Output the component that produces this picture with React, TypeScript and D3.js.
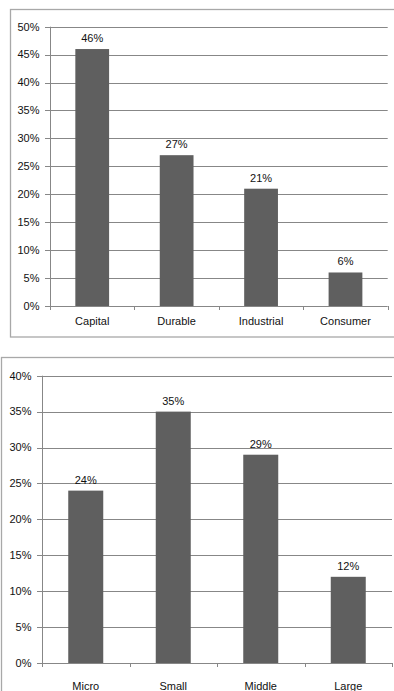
import React from "react";
import * as d3 from "d3";

// Share of firms by industry type
const industryCategories = ["Capital", "Durable", "Industrial", "Consumer"];
const industryShares = [46, 27, 21, 6];
const industryTicks = [0, 5, 10, 15, 20, 25, 30, 35, 40, 45, 50];

// Share of firms by size class
const sizeCategories = ["Micro", "Small", "Middle", "Large"];
const sizeShares = [24, 35, 29, 12];
const sizeTicks = [0, 5, 10, 15, 20, 25, 30, 35, 40];

const FONT = "'Liberation Sans', Arial, sans-serif";
const FONT_SIZE = 11;
const BAR = "#5f5f5f";
const GRID = "#878787";
const FRAME = "#a8a8a8";
const TEXT = "#111";

type PanelProps = {
  categories: string[];
  values: number[];
  ticks: number[];
  frame: { x: number; y: number; w: number; h: number };
  plot: { left: number; right: number; top: number; bottom: number };
  catBaseline: number;
};

function BarPanel({ categories, values, ticks, frame, plot, catBaseline }: PanelProps) {
  const maxTick = ticks[ticks.length - 1];
  const y = d3.scaleLinear().domain([0, maxTick]).range([plot.bottom, plot.top]);
  const x = d3
    .scaleBand<string>()
    .domain(categories)
    .range([plot.left, plot.right])
    .paddingInner(0.6)
    .paddingOuter(0.3);
  const step = x.step();
  const edges = d3.range(categories.length + 1).map((i) => plot.left + i * step);

  return (
    <g>
      <rect
        x={frame.x}
        y={frame.y}
        width={frame.w}
        height={frame.h}
        fill="#fff"
        stroke={FRAME}
        strokeWidth={1.3}
      />
      {ticks.map((t) => (
        <g key={t}>
          <line
            x1={plot.left - 5}
            x2={plot.right}
            y1={Math.round(y(t)) + 0.5}
            y2={Math.round(y(t)) + 0.5}
            stroke={GRID}
            strokeWidth={1}
          />
          <text
            x={plot.left - 10.5}
            y={y(t)}
            dy="0.35em"
            textAnchor="end"
            fontFamily={FONT}
            fontSize={FONT_SIZE}
            fill={TEXT}
          >
            {`${t}%`}
          </text>
        </g>
      ))}
      <line
        x1={plot.left + 0.5}
        x2={plot.left + 0.5}
        y1={y(maxTick)}
        y2={plot.bottom}
        stroke={GRID}
        strokeWidth={1}
      />
      {edges.map((ex, i) => (
        <line
          key={i}
          x1={Math.round(ex) + 0.5}
          x2={Math.round(ex) + 0.5}
          y1={plot.bottom}
          y2={plot.bottom + 4}
          stroke={GRID}
          strokeWidth={1}
        />
      ))}
      {categories.map((c, i) => (
        <g key={c}>
          <rect
            x={x(c)}
            y={y(values[i])}
            width={x.bandwidth()}
            height={plot.bottom - y(values[i])}
            fill={BAR}
          />
          <text
            x={(x(c) as number) + x.bandwidth() / 2}
            y={y(values[i]) - 7}
            textAnchor="middle"
            fontFamily={FONT}
            fontSize={FONT_SIZE}
            fill={TEXT}
          >
            {`${values[i]}%`}
          </text>
          <text
            x={(x(c) as number) + x.bandwidth() / 2}
            y={catBaseline}
            textAnchor="middle"
            fontFamily={FONT}
            fontSize={FONT_SIZE}
            fill={TEXT}
          >
            {c}
          </text>
        </g>
      ))}
    </g>
  );
}

export default function App() {
  return (
    <svg
      width={394}
      height={691}
      viewBox="0 0 394 691"
      style={{ position: "absolute", left: 0, top: 0, background: "#fff" }}
    >
      <BarPanel
        categories={industryCategories}
        values={industryShares}
        ticks={industryTicks}
        frame={{ x: 10.5, y: 9.5, w: 392, h: 327.5 }}
        plot={{ left: 50, right: 387.7, top: 26.7, bottom: 306 }}
        catBaseline={325}
      />
      <BarPanel
        categories={sizeCategories}
        values={sizeShares}
        ticks={sizeTicks}
        frame={{ x: 1.5, y: 357.5, w: 400, h: 400 }}
        plot={{ left: 42, right: 392, top: 375.7, bottom: 663 }}
        catBaseline={690}
      />
    </svg>
  );
}
